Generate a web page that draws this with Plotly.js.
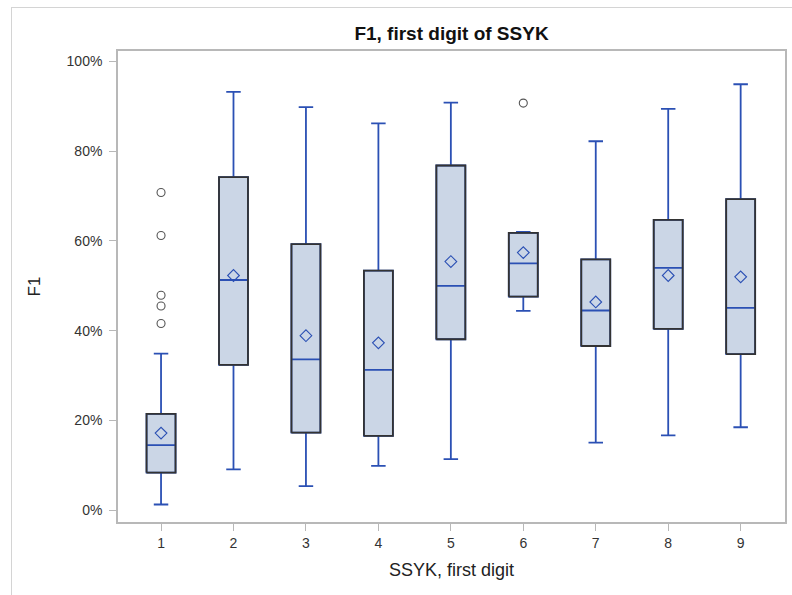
<!DOCTYPE html>
<html>
<head>
<meta charset="utf-8">
<script src="https://cdn.plot.ly/plotly-3.0.1.min.js"></script>
<style>
  html, body { margin: 0; padding: 0; background: #fff; }
  #wrap { position: relative; width: 792px; height: 595px; overflow: hidden; }
  #frame { position: absolute; left: 11px; top: 7px; width: 800px; height: 600px;
           border-top: 1.5px solid #d4d4d4; border-left: 1.5px solid #d4d4d4; pointer-events: none; }
  #chart { position: absolute; left: 0; top: 0; width: 792px; height: 595px; }
</style>
</head>
<body>
<div id="wrap">
  <div id="chart"></div>
  <div id="frame"></div>
</div>
<script>
// SSYK first digit categories
var categories = [1, 2, 3, 4, 5, 6, 7, 8, 9];
var tickLabels = ['1', '2', '3', '4', '5', '6', '7', '8', '9'];

// Box statistics of F1 (fractions)
var q1Values     = [0.084, 0.324, 0.173, 0.166, 0.381, 0.476, 0.366, 0.404, 0.348];
var medianValues = [0.145, 0.513, 0.336, 0.313, 0.500, 0.550, 0.445, 0.540, 0.451];
var q3Values     = [0.215, 0.742, 0.593, 0.534, 0.768, 0.618, 0.559, 0.647, 0.693];
var lowerWhisker = [0.013, 0.091, 0.054, 0.099, 0.114, 0.444, 0.151, 0.167, 0.185];
var upperWhisker = [0.349, 0.932, 0.898, 0.862, 0.908, 0.620, 0.822, 0.894, 0.949];
var meanValues   = [0.172, 0.523, 0.389, 0.373, 0.554, 0.574, 0.464, 0.523, 0.520];

// Outliers
var outlierCategory = [1, 1, 1, 1, 1, 6];
var outlierValues   = [0.708, 0.612, 0.479, 0.455, 0.416, 0.907];

var BOX_WIDTH = 0.4;
var BLUE = '#2B50B4';
var FILL = '#CBD6E6';
var FONT = 'Liberation Sans, Arial, sans-serif';

// box outline path (drawn over the box so its edge is dark while whiskers/median stay blue)
var outlineX = [], outlineY = [];
categories.forEach(function (c, i) {
  var l = c - BOX_WIDTH / 2, r = c + BOX_WIDTH / 2;
  outlineX.push(l, r, r, l, l, null);
  outlineY.push(q1Values[i], q1Values[i], q3Values[i], q3Values[i], q1Values[i], null);
});

var traces = [
  {
    type: 'box',
    x: categories,
    q1: q1Values,
    median: medianValues,
    q3: q3Values,
    lowerfence: lowerWhisker,
    upperfence: upperWhisker,
    width: BOX_WIDTH,
    whiskerwidth: 0.5,
    boxpoints: false,
    fillcolor: FILL,
    line: { color: BLUE, width: 1.8 },
    showlegend: false,
    hoverinfo: 'skip'
  },
  {
    type: 'scatter',
    mode: 'lines',
    x: outlineX,
    y: outlineY,
    line: { color: '#333333', width: 1.8 },
    connectgaps: false,
    showlegend: false,
    hoverinfo: 'skip'
  },
  {
    type: 'scatter',
    mode: 'markers',
    x: categories,
    y: meanValues,
    marker: { symbol: 'diamond-open', size: 9, color: BLUE, line: { width: 1.1, color: BLUE } },
    showlegend: false,
    hoverinfo: 'skip'
  },
  {
    type: 'scatter',
    mode: 'markers',
    x: outlierCategory,
    y: outlierValues,
    marker: { symbol: 'circle-open', size: 8, color: '#555555', line: { width: 1.1, color: '#555555' } },
    showlegend: false,
    hoverinfo: 'skip'
  }
];

var layout = {
  width: 792,
  height: 595,
  margin: { l: 118, r: 7, t: 51, b: 73, pad: 0 },
  paper_bgcolor: 'rgba(0,0,0,0)',
  plot_bgcolor: '#ffffff',
  font: { family: FONT, color: '#333333', size: 14 },
  title: {
    text: '<b>F1, first digit of SSYK</b>',
    font: { family: FONT, size: 19, color: '#111111' },
    x: 0.5, xref: 'paper', xanchor: 'center',
    y: 1 - 33 / 595, yref: 'container', yanchor: 'middle'
  },
  xaxis: {
    range: [0.406, 9.612],
    tickmode: 'array',
    tickvals: categories,
    ticktext: tickLabels,
    showline: true, mirror: true, linecolor: '#B8B8B8', linewidth: 1.8,
    ticks: 'outside', ticklen: 7, tickcolor: '#B8B8B8', tickwidth: 1,
    showgrid: false, zeroline: false,
    tickfont: { family: FONT, size: 14, color: '#333333' },
    title: { text: 'SSYK, first digit', font: { family: FONT, size: 18, color: '#222222' }, standoff: 14 }
  },
  yaxis: {
    range: [-0.026, 1.023],
    tickvals: [0, 0.2, 0.4, 0.6, 0.8, 1.0],
    tickformat: '.0%',
    showline: true, mirror: true, linecolor: '#B8B8B8', linewidth: 1.8,
    ticks: 'outside', ticklen: 7, tickcolor: '#B8B8B8', tickwidth: 1,
    ticklabelstandoff: 4,
    showgrid: false, zeroline: false,
    tickfont: { family: FONT, size: 14, color: '#333333' },
    title: { text: 'F1', font: { family: FONT, size: 17, color: '#222222' }, standoff: 22 }
  }
};

Plotly.newPlot('chart', traces, layout, { staticPlot: true, displayModeBar: false });
</script>
</body>
</html>
